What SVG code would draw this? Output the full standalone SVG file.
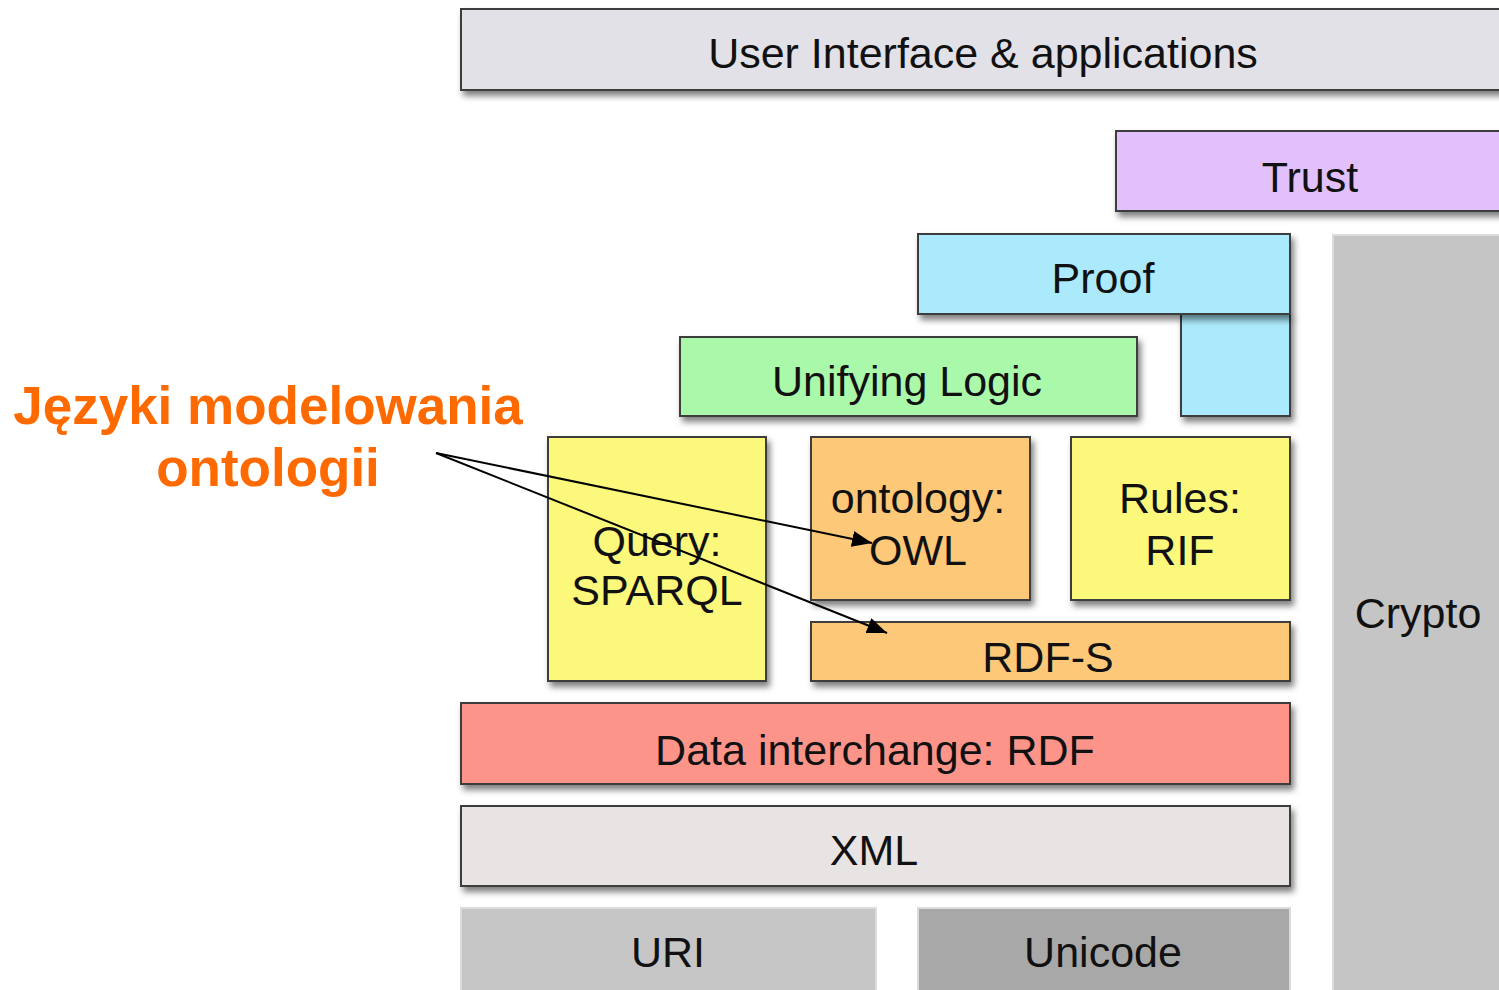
<svg xmlns="http://www.w3.org/2000/svg" width="1499" height="990" viewBox="0 0 1499 990">
  <style>
    .box { stroke: #3c3c3c; stroke-width: 2; filter: url(#shadow); }
    .flat { stroke: #dcdcdc; stroke-width: 2; }
    .lbl { font-family: "Liberation Sans", Arial, sans-serif; font-size: 43px; fill: #111; text-anchor: middle; }
    .note { font-family: "Liberation Sans", Arial, sans-serif; font-size: 53px; font-weight: bold; fill: #ff6a00; text-anchor: middle; }
    .conn { stroke: #000; stroke-width: 2; fill: none; marker-end: url(#head); }
  </style>
  <defs>
    <filter id="shadow" x="-10%" y="-20%" width="130%" height="160%">
      <feDropShadow dx="3" dy="5" stdDeviation="3" flood-color="#000" flood-opacity="0.5"/>
    </filter>
    <marker id="head" markerUnits="userSpaceOnUse" markerWidth="22" markerHeight="16" refX="20" refY="8" orient="auto">
      <path d="M0,0 L20,8 L0,16 Z" fill="#000"/>
    </marker>
  </defs>

  <rect width="1499" height="990" fill="#fff"/>

  <g id="crypto">
    <rect class="flat" x="1333" y="235" width="180" height="770" fill="#c5c5c5"/>
    <text class="lbl" x="1418" y="628">Crypto</text>
  </g>
  <g id="user-interface">
    <rect class="box" x="461" y="9" width="1060" height="81" fill="#e2e1e8"/>
    <text class="lbl" x="983" y="68">User Interface &amp; applications</text>
  </g>
  <g id="trust">
    <rect class="box" x="1116" y="131" width="400" height="80" fill="#e2c0fc"/>
    <text class="lbl" x="1310" y="192">Trust</text>
  </g>
  <g id="proof">
    <rect class="box" x="1181" y="314" width="109" height="102" fill="#aaeafc"/>
    <rect class="box" x="918" y="234" width="372" height="80" fill="#aaeafc"/>
    <text class="lbl" x="1103" y="293">Proof</text>
  </g>
  <g id="unifying-logic">
    <rect class="box" x="680" y="337" width="457" height="79" fill="#aaf8aa"/>
    <text class="lbl" x="907" y="396">Unifying Logic</text>
  </g>
  <g id="query">
    <rect class="box" x="548" y="437" width="218" height="244" fill="#fbf87c"/>
    <text class="lbl" x="657" y="556">Query:</text>
    <text class="lbl" x="657" y="605">SPARQL</text>
  </g>
  <g id="ontology">
    <rect class="box" x="811" y="437" width="219" height="163" fill="#fdc878"/>
    <text class="lbl" x="918" y="513">ontology:</text>
    <text class="lbl" x="918" y="565">OWL</text>
  </g>
  <g id="rules">
    <rect class="box" x="1071" y="437" width="219" height="163" fill="#fbf87c"/>
    <text class="lbl" x="1180" y="513">Rules:</text>
    <text class="lbl" x="1180" y="565">RIF</text>
  </g>
  <g id="rdf-s">
    <rect class="box" x="811" y="622" width="479" height="59" fill="#fdc878"/>
    <text class="lbl" x="1048" y="672">RDF-S</text>
  </g>
  <g id="rdf">
    <rect class="box" x="461" y="703" width="829" height="81" fill="#fd948a"/>
    <text class="lbl" x="875" y="765">Data interchange: RDF</text>
  </g>
  <g id="xml">
    <rect class="box" x="461" y="806" width="829" height="80" fill="#e8e4e3"/>
    <text class="lbl" x="874" y="865">XML</text>
  </g>
  <g id="uri">
    <rect class="flat" x="461" y="908" width="415" height="95" fill="#c6c6c6"/>
    <text class="lbl" x="668" y="967">URI</text>
  </g>
  <g id="unicode">
    <rect class="flat" x="918" y="908" width="372" height="95" fill="#a8a8a8"/>
    <text class="lbl" x="1103" y="967">Unicode</text>
  </g>

  <g id="note">
    <text class="note" x="268" y="424">Języki modelowania</text>
    <text class="note" x="268" y="486">ontologii</text>
  </g>

  <g id="connectors">
    <line class="conn" x1="436" y1="453" x2="872" y2="543"/>
    <line class="conn" x1="436" y1="453" x2="887" y2="633"/>
  </g>
</svg>
